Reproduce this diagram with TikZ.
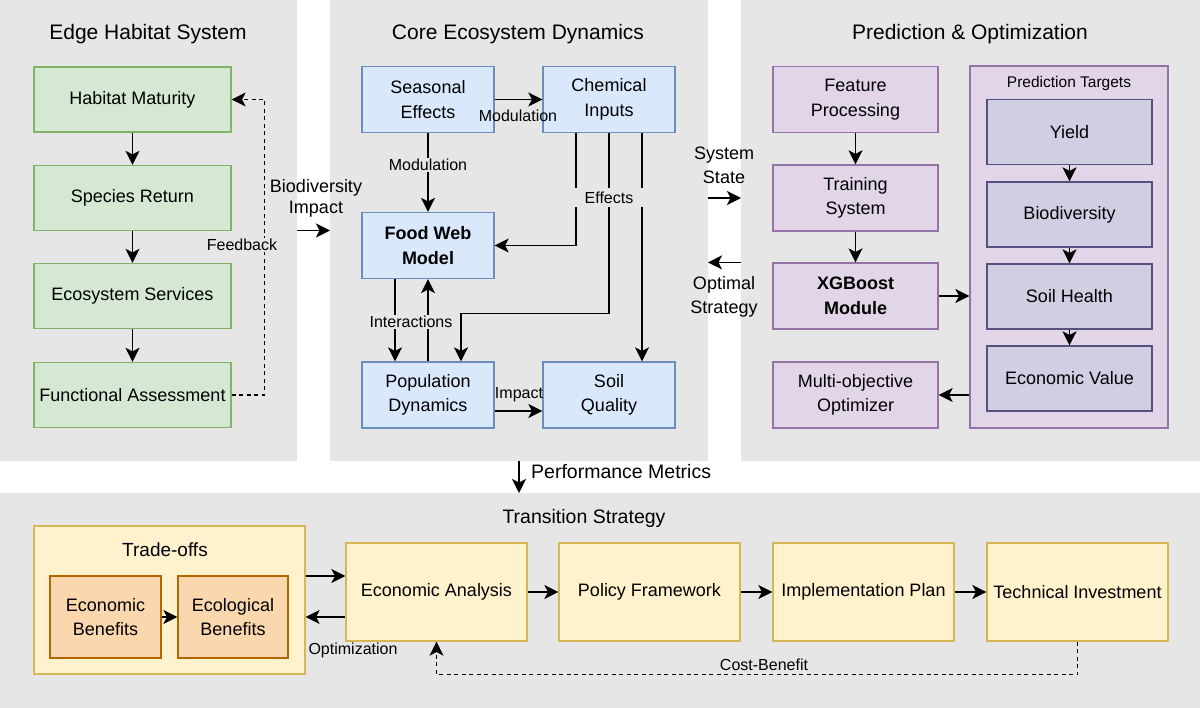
\documentclass[tikz,border=0pt]{standalone}
\usepackage{fontspec}
\setmainfont{Liberation Sans}
\usetikzlibrary{arrows.meta}
\definecolor{panelgray}{HTML}{E6E6E6}
\definecolor{gfill}{HTML}{D5E8D4}\definecolor{gdraw}{HTML}{82B366}
\definecolor{bfill}{HTML}{DAE8FC}\definecolor{bdraw}{HTML}{6C8EBF}
\definecolor{pfill}{HTML}{E1D5E7}\definecolor{pdraw}{HTML}{9673A6}
\definecolor{tfill}{HTML}{D0CEE2}\definecolor{tdraw}{HTML}{56517E}
\definecolor{yfill}{HTML}{FFF2CC}\definecolor{ydraw}{HTML}{D6B656}
\definecolor{ofill}{HTML}{FAD7AC}\definecolor{odraw}{HTML}{B46504}
\begin{document}
\begin{tikzpicture}[x=1pt,y=-1pt,
  panel/.style={fill=panelgray, draw=none, inner sep=0, outer sep=0, anchor=north west},
  ttl/.style={font=\fontsize{21}{24}\selectfont, inner sep=0},
  box/.style={draw, line width=1.2pt, align=center, inner sep=2pt, font=\fontsize{18}{24.5}\selectfont},
  boldbox/.style={font=\fontsize{18}{24.5}\selectfont\bfseries},
  gbox/.style={box, fill=gfill, draw=gdraw, minimum width=197pt, minimum height=65pt},
  bbox/.style={box, fill=bfill, draw=bdraw, minimum width=132pt, minimum height=66pt},
  pbox/.style={box, fill=pfill, draw=pdraw, minimum width=165pt, minimum height=66pt},
  tbox/.style={box, fill=tfill, draw=tdraw, minimum width=165pt, minimum height=65pt},
  ybox/.style={box, fill=yfill, draw=ydraw, minimum width=181pt, minimum height=98pt},
  obox/.style={box, fill=ofill, draw=odraw, minimum width=110pt, minimum height=82pt},
  arr/.style={-{Stealth[length=14pt,width=14pt,inset=3.5pt]}, line width=1.5pt},
  dashedarr/.style={arr, line width=1.4pt, dash pattern=on 4pt off 3.5pt},
  lab/.style={font=\fontsize{16}{19}\selectfont, inner sep=1pt},
  labbg/.style={lab, fill=panelgray},
  side/.style={font=\fontsize{18}{24}\selectfont, align=center, inner sep=0}
]
\useasboundingbox (0,0) rectangle (1200,708);
% panels
\node[panel, minimum width=297pt, minimum height=461pt] (edgep) at (0,0) {};
\node[panel, minimum width=378pt, minimum height=461pt] (corep) at (330,0) {};
\node[panel, minimum width=459pt, minimum height=461pt] (predp) at (741,0) {};
\node[panel, minimum width=1200pt, minimum height=215pt] (transp) at (0,493) {};
% titles
\node[ttl] (t1) at (148,34) {Edge Habitat System};
\node[ttl] (t2) at (518,34) {Core Ecosystem Dynamics};
\node[ttl] (t3) at (970,34) {Prediction \& Optimization};
\node[ttl, font=\fontsize{19.5}{24}\selectfont] (t4) at (584,518) {Transition Strategy};
% edge habitat
\node[gbox] (hm) at (132.5,99.5) {Habitat Maturity};
\node[gbox] (sr) at (132.5,198) {Species Return};
\node[gbox] (es) at (132.5,296) {Ecosystem Services};
\node[gbox] (fa) at (132.5,395) {Functional Assessment};
% core
\node[bbox] (se) at (428,99.5) {Seasonal\\Effects};
\node[bbox] (ci) at (609,99.5) {Chemical\\Inputs};
\node[bbox, boldbox] (fw) at (428,245.5) {Food Web\\Model};
\node[bbox] (pd) at (428,395) {Population\\Dynamics};
\node[bbox] (sq) at (609,395) {Soil\\Quality};
% prediction
\node[pbox] (fp) at (855.5,99.5) {Feature\\Processing};
\node[pbox] (ts) at (855.5,198) {Training\\System};
\node[pbox, boldbox] (xg) at (855.5,296) {XGBoost\\Module};
\node[pbox] (mo) at (855.5,395) {Multi-objective\\Optimizer};
\node[box, fill=pfill, draw=pdraw, minimum width=198pt, minimum height=362pt] (ptc) at (1069,247) {};
\node[lab, font=\fontsize{15.5}{19}\selectfont] (ptl) at (1069,83) {Prediction Targets};
\node[tbox] (yi) at (1069.5,132) {Yield};
\node[tbox] (bi) at (1069.5,214.5) {Biodiversity};
\node[tbox] (sh) at (1069.5,296.5) {Soil Health};
\node[tbox] (ev) at (1069.5,378.5) {Economic Value};
% transition
\node[box, fill=yfill, draw=ydraw, minimum width=271pt, minimum height=148pt] (to) at (169.5,600) {};
\node[ttl, font=\fontsize{19}{24}\selectfont] (tol) at (165,550) {Trade-offs};
\node[obox, minimum width=111pt] (eb) at (105.5,617) {Economic\\Benefits};
\node[obox] (ecb) at (233,617) {Ecological\\Benefits};
\node[ybox] (ea) at (436.5,592) {Economic Analysis};
\node[ybox] (pf) at (649.5,592) {Policy Framework};
\node[ybox] (ip) at (863.5,592) {Implementation Plan};
\node[ybox] (ti) at (1077.5,592) {Technical Investment};

% edge connectors
\draw[arr] (hm) -- (sr);
\draw[arr] (sr) -- (es);
\draw[arr] (es) -- (fa);
\draw[dashedarr] (fa.east) -- ++(33,0) |- (hm.east);
\node[labbg] (fbl) at (242,245) {Feedback};
\draw[arr] (edgep.east) -- (corep.west);
\node[side, font=\fontsize{18}{21}\selectfont] (bimp) at (316,198) {Biodiversity\\Impact};
% core connectors
\draw[arr] (se) -- (ci);
\node[lab] (m1) at (518,116) {Modulation};
\draw[arr] (se) -- (fw);
\node[labbg] (m2) at (428,165) {Modulation};
\draw[arr] ([xshift=-33pt]ci.south) |- (fw.east);
\draw[arr] (ci.south) -- ++(0,180.5) -| ([xshift=33pt]pd.north);
\draw[arr] ([xshift=33pt]ci.south) -- ([xshift=33pt]sq.north);
\node[labbg, minimum width=80pt, minimum height=19pt, inner sep=0] (eff) at (609,198) {Effects};
\draw[arr] ([xshift=-33pt]fw.south) -- ([xshift=-33pt]pd.north);
\draw[arr] (pd) -- (fw);
\node[labbg] (inter) at (411,322) {Interactions};
\draw[arr] ([yshift=-16pt]pd.east) -- ([yshift=-16pt]sq.west);
\node[lab] (imp) at (519,395) {Impact};
% between core and prediction
\draw[arr] (corep.east |- ts) -- (predp.west |- ts);
\node[side] (sst) at (724,165) {System\\State};
\draw[arr] (predp.west |- xg.north) -- (corep.east |- xg.north);
\node[side] (ost) at (724,296.5) {Optimal\\Strategy};
% prediction connectors
\draw[arr] (fp) -- (ts);
\draw[arr] (ts) -- (xg);
\draw[arr] (xg) -- (xg -| ptc.west);
\draw[arr] (ptc.west |- mo) -- (mo);
\draw[arr] (yi) -- (bi);
\draw[arr] (bi) -- (sh);
\draw[arr] (sh) -- (ev);
% performance
\draw[arr] (corep.south) -- (corep.south |- transp.north);
\node[side, font=\fontsize{19.5}{24}\selectfont, anchor=west] (perf) at (531,472) {Performance Metrics};
% transition connectors
\draw[arr] (eb) -- (ecb);
\draw[arr] (to.east |- 0,576) -- (ea.west |- 0,576);
\draw[arr] (ea.west |- 0,617) -- (to.east |- 0,617);
\node[lab] (opt) at (353,650) {Optimization};
\draw[arr] (ea) -- (pf);
\draw[arr] (pf) -- (ip);
\draw[arr] (ip) -- (ti);
\draw[dashedarr] (ti.south) -- ++(0,33) -| (ea.south);
\node[lab] (cb) at (764,665) {Cost-Benefit};
\end{tikzpicture}
\end{document}
